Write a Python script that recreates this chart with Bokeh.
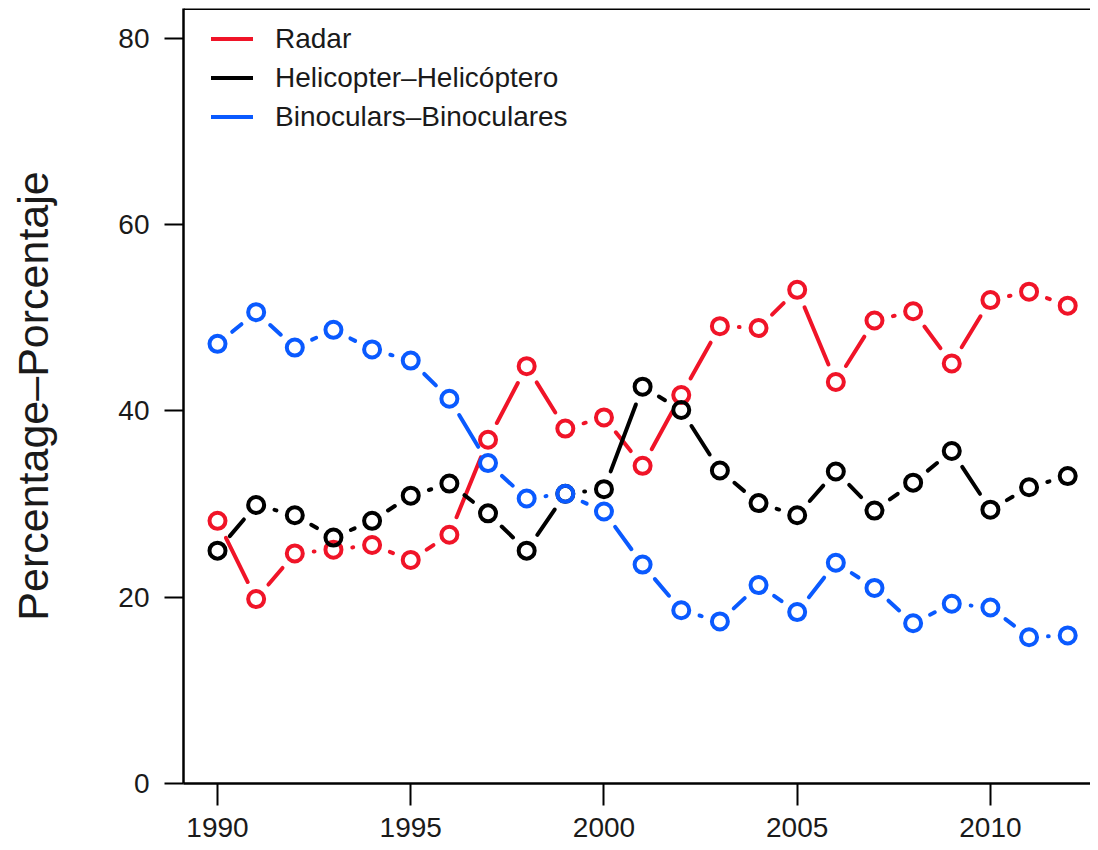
import numpy as np
from bokeh.plotting import figure
from bokeh.models import Legend, LegendItem, FixedTicker, Span
from bokeh.embed import file_html
from bokeh.resources import INLINE

# survey values
years = list(range(1990, 2013))
radar = [28.2, 19.8, 24.7, 25.1, 25.6, 24.0, 26.7, 36.9, 44.8, 38.1, 39.3, 34.1, 41.7,
         49.1, 48.9, 53.0, 43.1, 49.7, 50.7, 45.1, 51.9, 52.8, 51.3]
helicopter = [25.0, 29.9, 28.8, 26.4, 28.2, 30.9, 32.2, 29.0, 25.0, 31.1, 31.6, 42.6, 40.1,
              33.6, 30.1, 28.8, 33.5, 29.3, 32.3, 35.7, 29.4, 31.8, 33.0]
binoculars = [47.2, 50.6, 46.8, 48.7, 46.6, 45.4, 41.3, 34.4, 30.6, 31.1, 29.2, 23.5, 18.6,
              17.4, 21.3, 18.4, 23.7, 21.0, 17.2, 19.3, 18.9, 15.7, 15.9]

series_names = ["Radar", "Helicopter\u2013Helic\u00f3ptero", "Binoculars\u2013Binoculares"]
series_colors = ["#F01428", "black", "#0A5AFF"]
x_ticks = [1990, 1995, 2000, 2005, 2010]
y_ticks = [0, 20, 40, 60, 80]

FONT = "Liberation Sans"

W, H = 1090, 848
LEFT, TOP, BOTTOM = 183, 8, 65
x_lo, x_hi = 1989.12, 2012.59
y_lo, y_hi = 0, 83.2

p = figure(width=W, height=H, output_backend="svg", toolbar_location=None,
           x_range=(x_lo, x_hi), y_range=(y_lo, y_hi),
           min_border_left=LEFT, min_border_top=TOP, min_border_bottom=BOTTOM,
           min_border_right=0)
p.outline_line_color = None
p.xgrid.visible = False
p.ygrid.visible = False

# pixel scale of the frame, used to leave gaps round the points like R's type="b"
fw = W - LEFT
fh = H - TOP - BOTTOM
sx = fw / (x_hi - x_lo)
sy = fh / (y_hi - y_lo)
GAP = 19


def gapped(xs, ys):
    xs = np.asarray(xs, float)
    ys = np.asarray(ys, float)
    x0, x1, y0, y1 = [], [], [], []
    for i in range(len(xs) - 1):
        dx = (xs[i + 1] - xs[i]) * sx
        dy = (ys[i + 1] - ys[i]) * sy
        d = np.hypot(dx, dy)
        if d <= 2 * GAP:
            continue
        f = GAP / d
        x0.append(xs[i] + (xs[i + 1] - xs[i]) * f)
        y0.append(ys[i] + (ys[i + 1] - ys[i]) * f)
        x1.append(xs[i + 1] - (xs[i + 1] - xs[i]) * f)
        y1.append(ys[i + 1] - (ys[i + 1] - ys[i]) * f)
    return x0, y0, x1, y1


items = []
for name, vals, col in zip(series_names, [radar, helicopter, binoculars], series_colors):
    x0, y0, x1, y1 = gapped(years, vals)
    seg = p.segment(x0, y0, x1, y1, line_color=col, line_width=4, line_cap="round")
    p.scatter(years, vals, marker="circle", size=16, fill_color=None,
              line_color=col, line_width=4)
    items.append(LegendItem(label=name, renderers=[seg]))

legend = Legend(items=items, location=(28, 647))
legend.border_line_color = None
legend.background_fill_alpha = 0
legend.padding = 0
legend.margin = 0
legend.spacing = 0
legend.glyph_width = 42
legend.glyph_height = 39
legend.label_height = 39
legend.label_standoff = 22
legend.label_text_font = FONT
legend.label_text_font_size = "28px"
legend.label_text_color = "#1a1a1a"
p.add_layout(legend)

# top edge of the box
p.add_layout(Span(location=y_hi, dimension="width", line_color="black", line_width=3))

for ax in (p.xaxis, p.yaxis):
    ax.axis_line_width = 2.5
    ax.major_tick_line_width = 2
    ax.minor_tick_line_color = None
    ax.major_tick_in = 0
    ax.major_label_text_font = FONT
    ax.major_label_text_font_size = "28px"
    ax.major_label_text_color = "#1a1a1a"

p.xaxis.ticker = FixedTicker(ticks=x_ticks)
p.xaxis.major_tick_out = 22
p.xaxis.major_label_standoff = 12

p.yaxis.ticker = FixedTicker(ticks=y_ticks)
p.yaxis.major_tick_out = 19
p.yaxis.major_label_standoff = 15
p.yaxis.axis_label = "Percentage\u2013Porcentaje"
p.yaxis.axis_label_text_font = FONT
p.yaxis.axis_label_text_font_size = "43px"
p.yaxis.axis_label_text_font_style = "normal"
p.yaxis.axis_label_text_color = "#1a1a1a"
p.yaxis.axis_label_standoff = 58

open("out.html", "w").write(file_html(p, INLINE))
